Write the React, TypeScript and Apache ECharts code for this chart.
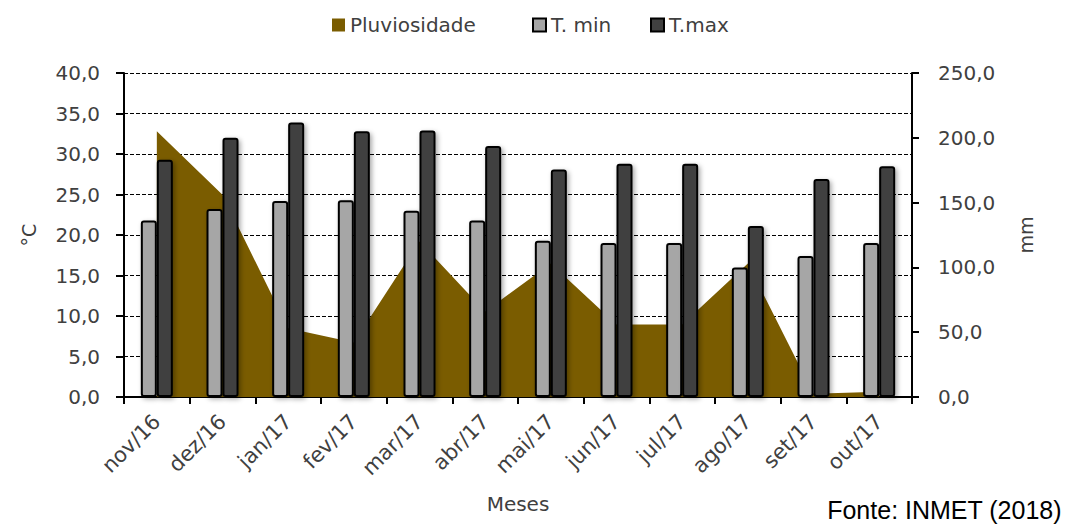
import React, { useEffect, useRef } from "react";
import * as echarts from "echarts";

const months = ["nov/16", "dez/16", "jan/17", "fev/17", "mar/17", "abr/17", "mai/17", "jun/17", "jul/17", "ago/17", "set/17", "out/17"];
const rainfall = [205, 156, 53, 42, 120, 66, 103, 56, 56, 103, 2.5, 4];
const tMin = [21.8, 23.2, 24.2, 24.3, 23.0, 21.8, 19.3, 19.0, 19.0, 16.0, 17.4, 19.0];
const tMax = [29.3, 32.0, 33.9, 32.8, 32.9, 31.0, 28.1, 28.8, 28.8, 21.1, 26.9, 28.5];

const FONT = "DejaVu Sans";
const TXT = "#404040";
const fmt = (v: number) => v.toFixed(1).replace(".", ",");

export default function App() {
  const ref = useRef<HTMLDivElement>(null);
  useEffect(() => {
    if (!ref.current) return;
    const chart = echarts.init(ref.current, undefined, { renderer: "svg" });
    const legendText = { fontFamily: FONT, fontSize: 20, color: TXT };
    const barShadow = {
      shadowColor: "rgba(0,0,0,0.35)",
      shadowBlur: 5,
      shadowOffsetX: 2,
      shadowOffsetY: 2,
    };
    chart.setOption({
      animation: false,
      backgroundColor: "#ffffff",
      textStyle: { fontFamily: FONT },
      legend: [
        { left: 327, top: 10, itemWidth: 13, itemHeight: 13, textStyle: legendText, data: [{ name: "Pluviosidade", icon: "rect" }] },
        { left: 527, top: 10, itemWidth: 13, itemHeight: 13, textStyle: legendText, data: [{ name: "T. min", icon: "rect" }] },
        { left: 645, top: 10, itemWidth: 13, itemHeight: 13, textStyle: legendText, data: [{ name: "T.max", icon: "rect" }] },
      ],
      grid: { left: 124, right: 154, top: 73, bottom: 127 },
      xAxis: {
        type: "category",
        data: months,
        boundaryGap: true,
        axisLine: { lineStyle: { color: "#000", width: 2 } },
        axisTick: { show: true, length: 7, interval: 0, lineStyle: { color: "#000", width: 2 } },
        axisLabel: { interval: 0, rotate: 45, margin: 21, fontFamily: FONT, fontSize: 21, color: TXT },
        name: "Meses",
        nameLocation: "middle",
        nameGap: 97,
        nameTextStyle: { fontFamily: FONT, fontSize: 20, color: TXT },
      },
      yAxis: [
        {
          type: "value",
          min: 0,
          max: 40,
          interval: 5,
          position: "left",
          name: "°C",
          nameLocation: "middle",
          nameGap: 86,
          nameTextStyle: { fontFamily: FONT, fontSize: 19, color: TXT },
          axisLine: { show: true, lineStyle: { color: "#000", width: 2 } },
          axisTick: { show: true, length: 8, lineStyle: { color: "#000", width: 2 } },
          axisLabel: { margin: 24, formatter: fmt, fontFamily: FONT, fontSize: 20, color: TXT },
          splitLine: { show: true, lineStyle: { color: "#000", width: 1, type: [4, 2] } },
        },
        {
          type: "value",
          min: 0,
          max: 250,
          interval: 50,
          position: "right",
          name: "mm",
          nameLocation: "middle",
          nameGap: 104,
          nameTextStyle: { fontFamily: FONT, fontSize: 19, color: TXT },
          axisLine: { show: true, lineStyle: { color: "#000", width: 2 } },
          axisTick: { show: true, length: 7, lineStyle: { color: "#000", width: 2 } },
          axisLabel: { margin: 26, formatter: fmt, fontFamily: FONT, fontSize: 20, color: TXT },
          splitLine: { show: false },
        },
      ],
      series: [
        {
          name: "Pluviosidade",
          type: "line",
          yAxisIndex: 1,
          data: rainfall,
          symbol: "none",
          lineStyle: { width: 0 },
          itemStyle: { color: "#7A5C00" },
          areaStyle: { color: "#7A5C00", opacity: 1 },
          z: 1,
        },
        {
          name: "T. min",
          type: "bar",
          yAxisIndex: 0,
          data: tMin,
          barWidth: 16,
          barGap: "0%",
          itemStyle: { color: "#A6A6A6", borderColor: "#000", borderWidth: 2, borderRadius: 2, ...barShadow },
          z: 2,
        },
        {
          name: "T.max",
          type: "bar",
          yAxisIndex: 0,
          data: tMax,
          barWidth: 16,
          barGap: "0%",
          itemStyle: { color: "#404040", borderColor: "#000", borderWidth: 2, borderRadius: 2, ...barShadow },
          z: 2,
        },
      ],
      graphic: [
        {
          type: "text",
          right: 4,
          top: 497,
          style: { text: "Fonte: INMET (2018)", font: "25px 'Liberation Sans'", fill: "#000" },
        },
      ],
    });
    return () => chart.dispose();
  }, []);
  return (
    <div
      ref={ref}
      style={{ position: "fixed", left: 0, top: 0, width: 1066, height: 524 }}
    />
  );
}
